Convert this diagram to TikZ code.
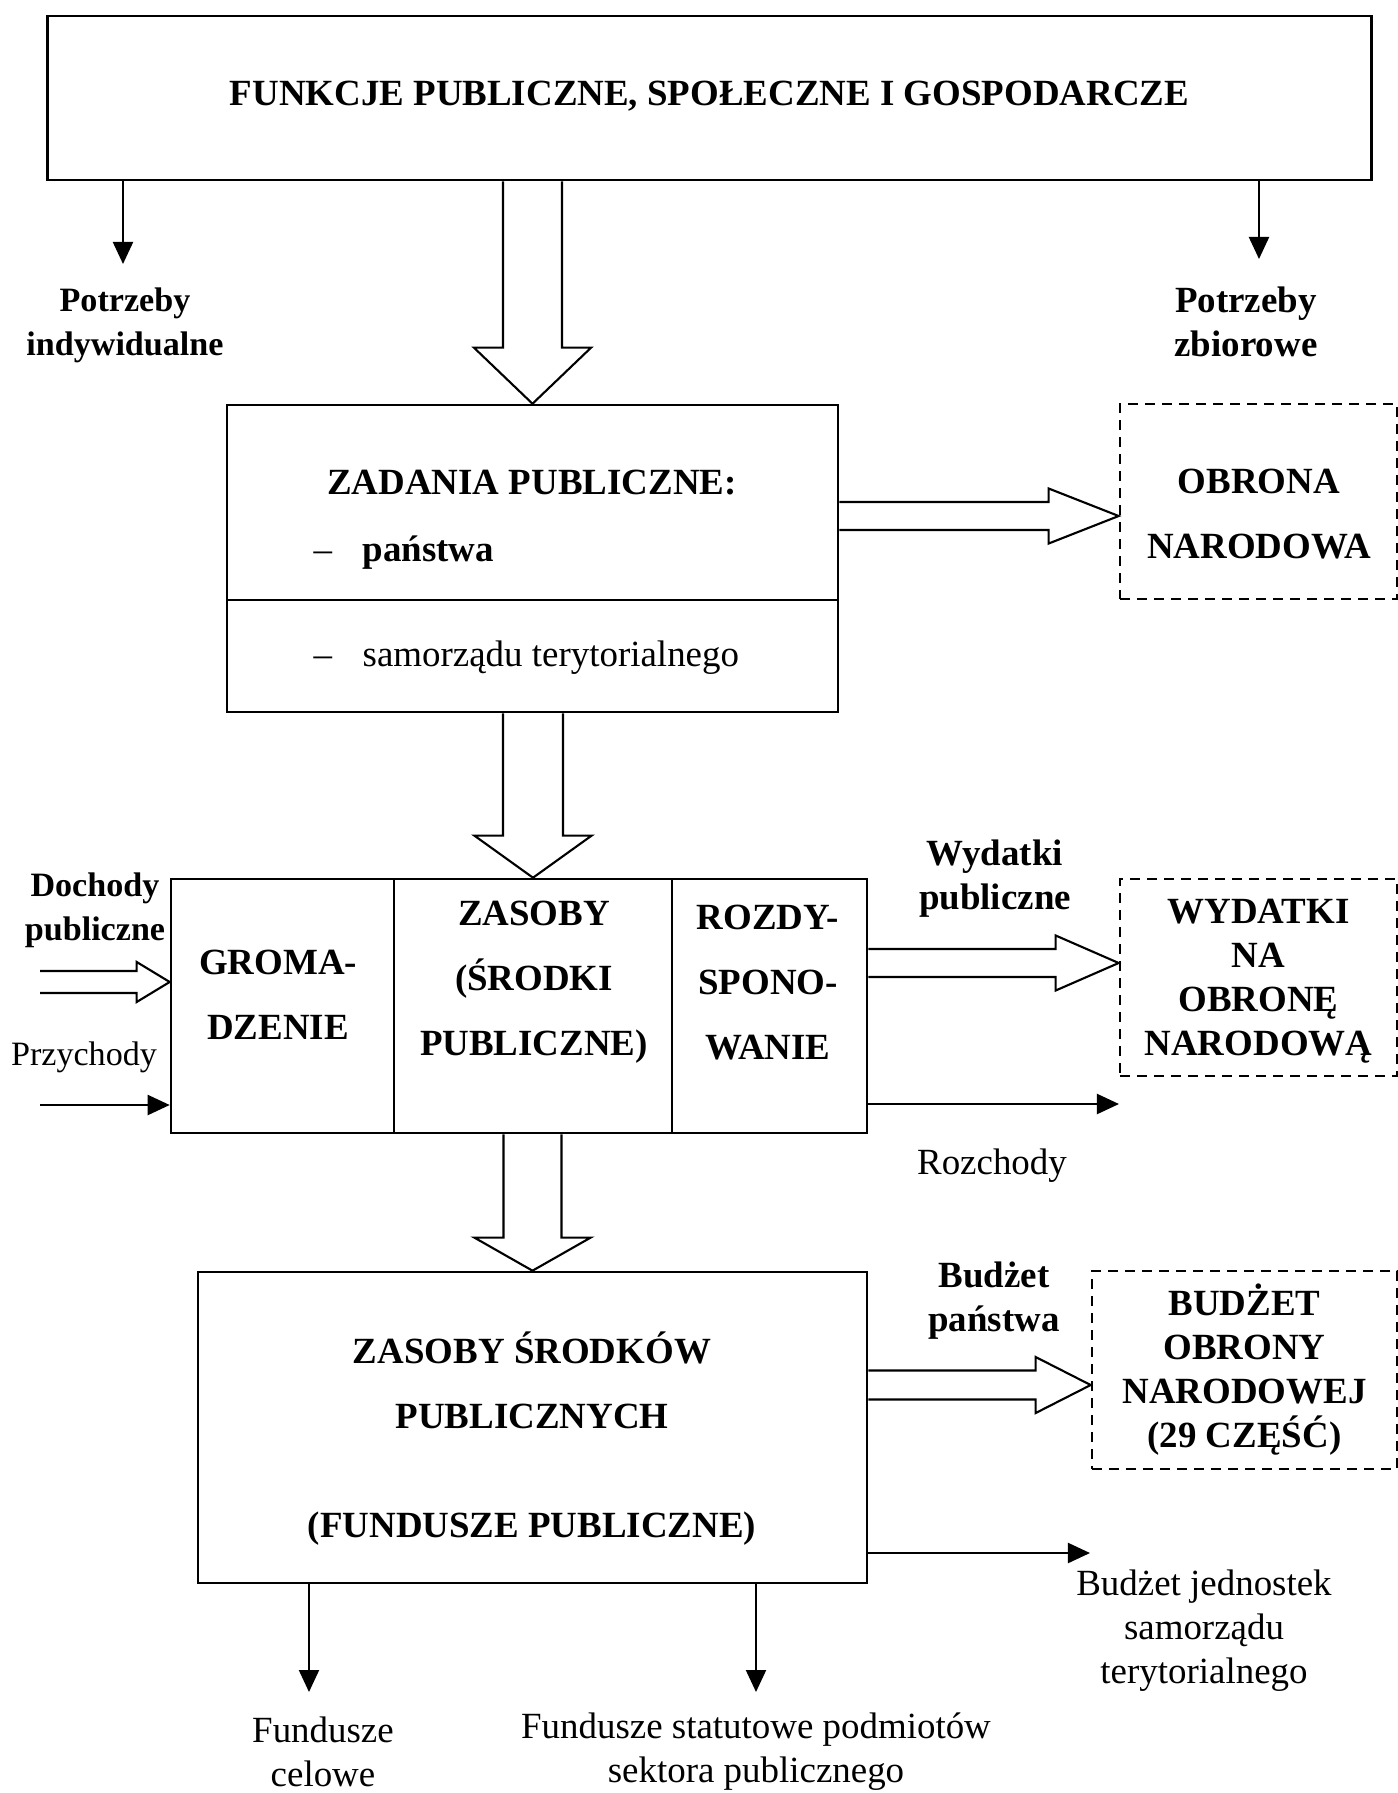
\documentclass[tikz,border=0pt]{standalone}
\usepackage{fontspec}
\setmainfont{Liberation Serif}
\usepackage{tikz}
\usetikzlibrary{arrows.meta,calc}

\tikzset{
	frame/.style={draw,line width=0.7pt,inner sep=0pt},
	dashframe/.style={draw,line width=0.7pt,inner sep=0pt,dash pattern=on 0.1cm off 0.07cm},
	lab/.style={align=center,inner sep=0pt,font=\fontsize{10.5}{12.5}\selectfont},
	blab/.style={align=center,inner sep=0pt,font=\fontsize{10.5}{12.5}\selectfont\bfseries},
	slab/.style={align=center,inner sep=0pt,font=\fontsize{9.7}{12.5}\selectfont},
	sblab/.style={align=center,inner sep=0pt,font=\fontsize{9.7}{12.5}\selectfont\bfseries},
	tall/.style={align=center,inner sep=0pt,font=\fontsize{10.5}{18.5}\selectfont\bfseries},
	thinarrow/.style={line width=0.6pt,-{Triangle[length=0.22cm,width=0.2cm]}},
	fat/.style={line width=0.6pt,line join=miter}
}

\newcommand{\fatdown}[5]{%
	\draw[fat] let \p1=(#1), \p2=(#2) in
		(\x2-#3,\y1) -- (\x2-#3,\y2+#5) -- (\x2-#4,\y2+#5) -- (\p2)
		-- (\x2+#4,\y2+#5) -- (\x2+#3,\y2+#5) -- (\x2+#3,\y1);}
\newcommand{\fatright}[5]{%
	\draw[fat] let \p1=(#1), \p2=(#2) in
		(\x1,\y2+#3) -- (\x2-#5,\y2+#3) -- (\x2-#5,\y2+#4) -- (\p2)
		-- (\x2-#5,\y2-#4) -- (\x2-#5,\y2-#3) -- (\x1,\y2-#3);}

\begin{document}
\begin{tikzpicture}[x=0.01cm,y=-0.01cm]
		\useasboundingbox (0,0) rectangle (1398,1793);
%		\draw[help lines,step=100] (0,0) grid (1398,1793);
		\path (123,264) coordinate (indout);
		\path (1259,259) coordinate (zbout);
		\path (40,982) coordinate (dochin);
		\path (40,1105) coordinate (przyin);
		\path (1119,1104) coordinate (rozout);
		\path (1090,1553) coordinate (jstout);
		\path (309,1692) coordinate (celout);
		\path (756,1692) coordinate (statout);

		\path (709.5,98) node(funk) [frame,minimum width=13.23cm,minimum height=1.64cm,blab,text depth=0.1cm] {FUNKCJE PUBLICZNE, SPOŁECZNE I GOSPODARCZE};
		\draw[thinarrow] (indout |- funk.south) -- (indout);
		\draw[thinarrow] (zbout |- funk.south) -- (zbout);
		\path (125,325) node(indlab) [sblab] {Potrzeby\\indywidualne};
		\path (1246,321.5) node(zblab) [blab] {Potrzeby\\zbiorowe};

		\path (532.5,502.5) node(zadtop) [frame,minimum width=6.11cm,minimum height=1.95cm] {};
		\path (532.5,656) node(zadbot) [frame,minimum width=6.11cm,minimum height=1.12cm] {};
		\path (532,483) node(zadtitle) [blab] {ZADANIA PUBLICZNE:};
		\path (313,553) node(zadpan) [blab,anchor=west] {\makebox[0.49cm][l]{\mdseries –}państwa};
		\path (313,658) node(zadsam) [lab,anchor=west] {\makebox[0.49cm][l]{–}samorządu terytorialnego};
		\fatdown{funk.south}{zadtop.north}{0.295cm}{0.585cm}{0.56cm}

		\path (1258.5,501.5) node(obr) [dashframe,minimum width=2.77cm,minimum height=1.95cm] {};
		\path (1259,514) node(obrtxt) [tall] {OBRONA\\NARODOWA};
		\fatright{zadtop.east}{[yshift=-0.145cm]obr.west}{0.14cm}{0.275cm}{0.70cm}

		\path (282.5,1006) node(grom) [frame,minimum width=2.23cm,minimum height=2.54cm] {};
		\path (533,1006) node(zas) [frame,minimum width=2.78cm,minimum height=2.54cm] {};
		\path (769.5,1006) node(rozd) [frame,minimum width=1.95cm,minimum height=2.54cm] {};
		\path (278,994.5) node(gromtxt) [tall] {GROMA-\\DZENIE};
		\path (534,982.5) node(zastxt) [tall] {ZASOBY\\(ŚRODKI\\PUBLICZNE)};
		\path (768,982.5) node(rozdtxt) [tall] {ROZDY-\\SPONO-\\WANIE};
		\fatdown{zadbot.south}{zas.north}{0.30cm}{0.585cm}{0.42cm}

		\path (95,910.5) node(doch) [sblab] {Dochody\\publiczne};
		\path (84,1057) node(przy) [slab] {Przychody};
		\fatright{dochin}{[yshift=0.24cm]grom.west}{0.11cm}{0.2cm}{0.33cm}
		\draw[thinarrow] (przyin) -- (przyin -| grom.west);

		\path (995,879) node(wydlab) [blab] {Wydatki\\publiczne};
		\path (1258.5,977.5) node(wyd) [dashframe,minimum width=2.77cm,minimum height=1.97cm,blab,text depth=0pt] {WYDATKI\\NA\\OBRONĘ\\NARODOWĄ};
		\fatright{rozd.east}{[yshift=0.145cm]wyd.west}{0.14cm}{0.275cm}{0.63cm}
		\draw[thinarrow] (rozout -| rozd.east) -- (rozout);
		\path (992,1166) node(rozlab) [lab] {Rozchody};

		\path (532.5,1427.5) node(fund) [frame,minimum width=6.69cm,minimum height=3.11cm] {};
		\path (532,1439) node(fundtxt) [tall] {ZASOBY ŚRODKÓW\\PUBLICZNYCH\\[12.5pt](FUNDUSZE PUBLICZNE)};
		\fatdown{zas.south}{fund.north}{0.29cm}{0.58cm}{0.33cm}

		\path (994,1300.5) node(budlab) [blab] {Budżet\\państwa};
		\path (1244.5,1370) node(bud) [dashframe,minimum width=3.05cm,minimum height=1.98cm,blab] {BUDŻET\\OBRONY\\NARODOWEJ\\(29 CZĘŚĆ)};
		\fatright{fund.east}{[yshift=-0.15cm]bud.west}{0.145cm}{0.28cm}{0.55cm}
		\draw[thinarrow] (jstout -| fund.east) -- (jstout);
		\path (1204,1631) node(jstlab) [lab] {Budżet jednostek\\samorządu\\terytorialnego};

		\draw[thinarrow] (celout |- fund.south) -- (celout);
		\draw[thinarrow] (statout |- fund.south) -- (statout);
		\path (323,1751.5) node(cellab) [lab] {Fundusze\\celowe};
		\path (756,1751.5) node(statlab) [lab] {Fundusze statutowe podmiotów\\sektora publicznego};
\end{tikzpicture}
\end{document}
